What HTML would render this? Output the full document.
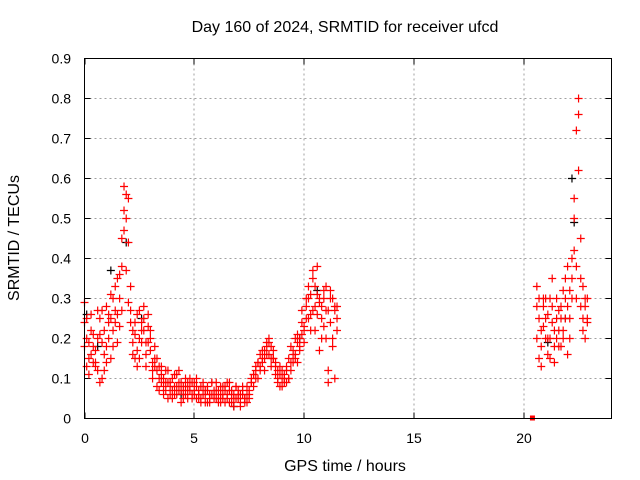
<!DOCTYPE html>
<html><head><meta charset="utf-8"><style>
html,body{margin:0;padding:0;background:#fff;}
svg{display:block;font-family:"Liberation Sans",sans-serif;}
</style></head><body>
<svg id="chart" width="640" height="480" viewBox="0 0 640 480" xmlns="http://www.w3.org/2000/svg">
<rect width="640" height="480" fill="#fff"/>
<text x="345" y="32" font-size="16" text-anchor="middle">Day 160 of 2024, SRMTID for receiver ufcd</text>
<text transform="translate(19,238) rotate(-90)" font-size="16" text-anchor="middle">SRMTID / TECUs</text>
<text x="345" y="471" font-size="16" text-anchor="middle">GPS time / hours</text>
<g id="grid"></g><g id="ticks"></g><g id="marks"></g>
<rect x="84.5" y="58.5" width="527" height="360" fill="none" stroke="#000" stroke-width="1"/>
</svg>
<script>
const xTicks=[0,5,10,15,20];
const yTicks=[0,0.1,0.2,0.3,0.4,0.5,0.6,0.7,0.8,0.9];
const timesDay=[0.0,0.1,0.2,0.3,0.4,0.5,0.6,0.7,0.8,0.9,1.0,1.1,1.2,1.3,1.4,1.5,1.6,1.7,1.8,1.9,2.0,2.1,2.2,2.3,2.4,2.5,2.6,2.7,2.8,2.9,3.0,3.1,3.2,3.3,3.4,3.5,3.6,3.7,3.8,3.9,4.0,4.1,4.2,4.3,4.4,4.5,4.6,4.7,4.8,4.9,5.0,5.1,5.2,5.3,5.4,5.5,5.6,5.7,5.8,5.9,6.0,6.1,6.2,6.3,6.4,6.5,6.6,6.7,6.8,6.9,7.0,7.1,7.2,7.3,7.4,7.5,7.6,7.7,7.8,7.9,8.0,8.1,8.2,8.3,8.4,8.5,8.6,8.7,8.8,8.9,9.0,9.1,9.2,9.3,9.4,9.5,9.6,9.7,9.8,9.9,10.0,10.1,10.2,10.3,10.4,10.5,10.6,10.7,10.8,10.9,11.0,11.1,11.2,11.3,11.4,11.5];
const srmtidA=[0.29,0.2,0.15,0.22,0.18,0.13,0.2,0.25,0.1,0.16,0.28,0.2,0.25,0.22,0.33,0.26,0.3,0.38,0.58,0.5,0.55,0.33,0.22,0.15,0.17,0.2,0.24,0.22,0.19,0.26,0.2,0.14,0.15,0.12,0.13,0.09,0.1,0.07,0.09,0.06,0.1,0.08,0.11,0.07,0.09,0.06,0.08,0.07,0.1,0.06,0.09,0.05,0.07,0.08,0.06,0.04,0.07,0.05,0.09,0.06,0.05,0.07,0.04,0.06,0.08,0.05,0.07,0.04,0.06,0.05,0.07,0.04,0.06,0.05,0.08,0.07,0.09,0.11,0.12,0.14,0.13,0.15,0.17,0.16,0.19,0.18,0.15,0.14,0.12,0.11,0.1,0.09,0.12,0.1,0.14,0.17,0.15,0.19,0.18,0.21,0.22,0.25,0.3,0.22,0.35,0.28,0.38,0.3,0.25,0.32,0.2,0.27,0.3,0.18,0.28,0.25];
const srmtidB=[0.24,0.13,0.19,0.26,0.14,0.17,0.12,0.21,0.27,0.12,0.18,0.26,0.15,0.3,0.24,0.19,0.36,0.27,0.47,0.56,0.44,0.27,0.16,0.24,0.13,0.27,0.19,0.28,0.16,0.23,0.17,0.12,0.18,0.08,0.1,0.13,0.06,0.09,0.12,0.08,0.05,0.11,0.06,0.09,0.04,0.08,0.1,0.05,0.07,0.09,0.06,0.08,0.05,0.04,0.09,0.06,0.08,0.04,0.06,0.07,0.09,0.05,0.06,0.08,0.04,0.06,0.09,0.07,0.03,0.08,0.05,0.06,0.08,0.04,0.06,0.05,0.1,0.08,0.13,0.1,0.16,0.14,0.12,0.18,0.2,0.15,0.17,0.13,0.1,0.13,0.08,0.11,0.09,0.15,0.12,0.16,0.2,0.14,0.17,0.24,0.19,0.28,0.33,0.26,0.37,0.22,0.31,0.17,0.28,0.23,0.33,0.12,0.24,0.3,0.1,0.22];
const srmtidC=[0.18,0.25,0.11,0.16,0.21,0.14,0.27,0.09,0.19,0.22,0.14,0.24,0.31,0.18,0.27,0.35,0.23,0.45,0.52,0.37,0.29,0.24,0.19,0.21,0.26,0.15,0.22,0.25,0.13,0.19,0.22,0.1,0.13,0.15,0.07,0.11,0.08,0.12,0.05,0.09,0.07,0.06,0.08,0.12,0.07,0.05,0.06,0.09,0.08,0.05,0.07,0.1,0.06,0.05,0.08,0.07,0.04,0.06,0.09,0.05,0.07,0.04,0.08,0.05,0.07,0.09,0.04,0.06,0.05,0.08,0.06,0.03,0.07,0.05,0.04,0.06,0.09,0.11,0.1,0.14,0.12,0.17,0.15,0.19,0.16,0.13,0.15,0.11,0.09,0.08,0.12,0.1,0.13,0.1,0.18,0.14,0.16,0.21,0.2,0.27,0.23,0.3,0.25,0.31,0.27,0.33,0.26,0.29,0.2,0.3,0.27,0.09,0.32,0.2,0.27,0.28];
const timesLate=[20.6,20.7,20.8,20.9,21.0,21.1,21.2,21.3,21.4,21.5,21.6,21.7,21.8,21.9,22.0,22.1,22.2,22.3,22.4,22.5,22.6,22.7,22.8,22.9];
const lateA=[0.33,0.3,0.22,0.28,0.25,0.2,0.3,0.35,0.18,0.25,0.22,0.28,0.32,0.25,0.38,0.2,0.35,0.42,0.3,0.8,0.45,0.33,0.28,0.25];
const lateB=[0.28,0.15,0.13,0.23,0.3,0.16,0.2,0.24,0.14,0.2,0.27,0.18,0.22,0.3,0.16,0.25,0.3,0.55,0.72,0.62,0.28,0.22,0.3,0.24];
const lateC=[0.2,0.25,0.18,0.3,0.2,0.26,0.15,0.28,0.22,0.3,0.18,0.25,0.2,0.35,0.28,0.32,0.4,0.5,0.38,0.76,0.35,0.25,0.2,0.3];
const blackTimes=[0.1,0.6,1.2,1.9,2.6,4.4,6.8,9.8,10.6,21.1,21.9,22.2,22.3];
const blackVals=[0.26,0.18,0.37,0.44,0.25,0.06,0.03,0.2,0.32,0.19,0.25,0.6,0.49];
const gapTimes=[20.4];
const gapVals=[0];

const X0=84.5,X1=611.5,Y0=418.5,Y1=58.5;
const xs=t=>X0+(t/24)*(X1-X0);
const ys=v=>Y0-(v/0.9)*(Y0-Y1);
const NS="http://www.w3.org/2000/svg";
function mk(tag,attrs,parent){const e=document.createElementNS(NS,tag);for(const k in attrs)e.setAttribute(k,attrs[k]);parent.appendChild(e);return e;}
const grid=document.getElementById('grid'),ticks=document.getElementById('ticks'),marks=document.getElementById('marks');
xTicks.forEach(t=>{const x=Math.round(xs(t))+0.5-0.5;
 if(t>0){const g=mk('line',{x1:x,x2:x,y1:Y1,y2:Y0,stroke:'#a0a0a0','stroke-dasharray':'2,3'},grid);
 
 }
 const tk=mk('path',{d:`M${x},${Y0}v-6M${x},${Y1}v6`,stroke:'#000'},ticks);
 
 
 const l=mk('text',{x:x,y:443,'font-size':14,'text-anchor':'middle'},ticks);l.textContent=t;
 
 });
yTicks.forEach(v=>{const y=Math.round(ys(v)-0.5)+0.5;
 if(v>0&&v<0.9){const g=mk('line',{x1:X0,x2:X1,y1:y,y2:y,stroke:'#a0a0a0','stroke-dasharray':'2,3'},grid);
 
 }
 const tk=mk('path',{d:`M${X0},${y}h6M${X1},${y}h-6`,stroke:'#000'},ticks);
 
 
 const l=mk('text',{x:71,y:y+5,'font-size':14,'text-anchor':'end'},ticks);l.textContent=(v===0?'0':v.toFixed(1));
 
 });
function plus(t,v,color,name){const x=xs(t),y=ys(v);
 const p=mk('path',{d:`M${x-4},${y}h8M${x},${y-4}v8`,stroke:color,'stroke-width':1.2,fill:'none'},marks);
 
 }
blackTimes.forEach((t,i)=>plus(t,blackVals[i],'#000','black-point'));
[srmtidA,srmtidB,srmtidC].forEach(arr=>timesDay.forEach((t,i)=>{if(arr[i]!==undefined)plus(t,arr[i],'#f00','srmtid-point');}));
[lateA,lateB,lateC].forEach(arr=>timesLate.forEach((t,i)=>{if(arr[i]!==undefined)plus(t,arr[i],'#f00','srmtid-point');}));
gapTimes.forEach((t,i)=>{const r=mk('rect',{x:xs(t)-2.5,y:ys(gapVals[i])-3,width:5,height:5,fill:'#f00'},marks);
 
 });
</script>
</body></html>
